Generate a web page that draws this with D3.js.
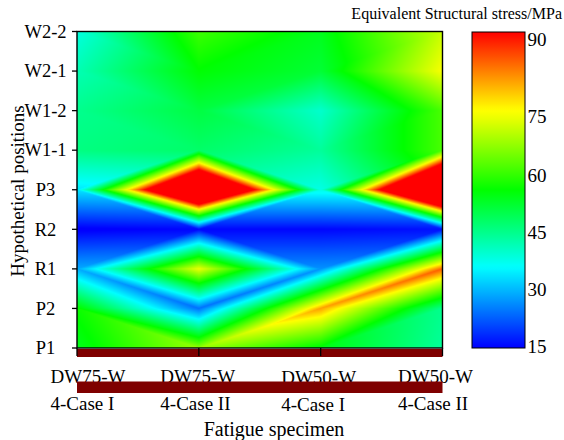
<!DOCTYPE html>
<html>
<head>
<meta charset="utf-8">
<script src="https://cdn.jsdelivr.net/npm/d3@7/dist/d3.min.js"></script>
<style>
  html, body { margin: 0; padding: 0; background: #fff; }
  svg { display: block; }
</style>
</head>
<body>
<div id="chart"></div>
<script>
// ---------------- data ----------------
const specimens = ["DW75-W4-Case I", "DW75-W4-Case II", "DW50-W4-Case I", "DW50-W4-Case II"];
const positions = ["P1", "P2", "R1", "R2", "P3", "W1-1", "W1-2", "W2-1", "W2-2"]; // bottom -> top
// equivalent structural stress (MPa) at each position, one array per specimen
const dw75CaseI  = [54, 57, 29, 14, 34, 46, 45, 42, 38.5];
const dw75CaseII = [68, 24, 75, 15, 137, 48, 51, 56, 61];
const dw50CaseI  = [55, 82, 27, 15, 38, 44, 40, 52, 54];
const dw50CaseII = [44, 45, 86, 16, 150, 62, 62, 76, 72];
const colorTicks = [15, 30, 45, 60, 75, 90];
const colorTitle = "Equivalent Structural stress/MPa";
const xTitle = "Fatigue specimen";
const yTitle = "Hypothetical positions";

const Z = [dw75CaseI, dw75CaseII, dw50CaseI, dw50CaseII];

(function () {
// ---------------- layout ----------------
const width = 564, height = 440;
const pLeft = 77, pRight = 442.5, pTop = 31.5, pBottom = 348;
const cbLeft = 472, cbRight = 525, cbTop = 32, cbBottom = 348;
const FONT = "'Liberation Serif', 'Times New Roman', Times, 'DejaVu Serif', serif";

const svg = d3.select("#chart").append("svg")
  .attr("width", width).attr("height", height)
  .attr("font-family", FONT);

const x = d3.scalePoint().domain(specimens).range([pLeft, pRight]).padding(0);
const y = d3.scalePoint().domain(positions).range([pBottom, pTop]).padding(0);
const xi = d3.scaleLinear().domain([0, specimens.length - 1]).range([pLeft, pRight]);
const yi = d3.scaleLinear().domain([0, positions.length - 1]).range([pBottom, pTop]);

// colour bar value->position (as labelled in the reference)
const cbScale = d3.scaleLinear().domain(colorTicks).range([346.5, 290, 233, 175.5, 117, 40]);
const color = d3.scaleLinear()
  .domain([cbScale.invert(cbBottom), cbScale.invert(267), cbScale.invert(190), cbScale.invert(110), cbScale.invert(cbTop)])
  .range(["#0000ff", "#00ffff", "#00ff00", "#ffff00", "#ff0000"])
  .clamp(true);

// LUT
const cd = color.domain();
const lutN = 2048, lo = cd[0], hi = cd[cd.length - 1];
const lut = new Uint8ClampedArray(lutN * 3);
for (let k = 0; k < lutN; k++) {
  const c = d3.rgb(color(lo + (hi - lo) * k / (lutN - 1)));
  lut[k * 3] = c.r; lut[k * 3 + 1] = c.g; lut[k * 3 + 2] = c.b;
}

// ---------------- heat field (triangulated linear interpolation) ----------------
const W = Math.round(pRight - pLeft), H = Math.round(pBottom - pTop);
const canvas = document.createElement("canvas");
canvas.width = W; canvas.height = H;
const ctx = canvas.getContext("2d");
const img = ctx.createImageData(W, H);
const nx = specimens.length - 1, ny = positions.length - 1;
for (let py = 0; py < H; py++) {
  let v = yi.invert(pTop + (py + 0.5) * (pBottom - pTop) / H);
  v = Math.max(0, Math.min(ny, v));
  const j = Math.min(Math.floor(v), ny - 1), t = v - j;
  for (let px = 0; px < W; px++) {
    let u = xi.invert(pLeft + (px + 0.5) * (pRight - pLeft) / W);
    u = Math.max(0, Math.min(nx, u));
    const i = Math.min(Math.floor(u), nx - 1), s = u - i;
    const z00 = Z[i][j], z10 = Z[i + 1][j], z01 = Z[i][j + 1], z11 = Z[i + 1][j + 1];
    let z;
    if (Math.abs(z00 - z11) <= Math.abs(z10 - z01)) {
      if (s >= t) z = z00 + s * (z10 - z00) + t * (z11 - z10);
      else z = z00 + t * (z01 - z00) + s * (z11 - z01);
    } else {
      if (s + t <= 1) z = z00 + s * (z10 - z00) + t * (z01 - z00);
      else z = z11 + (1 - s) * (z01 - z11) + (1 - t) * (z10 - z11);
    }
    let k = Math.round((z - lo) / (hi - lo) * (lutN - 1));
    k = Math.max(0, Math.min(lutN - 1, k));
    const o = (py * W + px) * 4;
    img.data[o] = lut[k * 3]; img.data[o + 1] = lut[k * 3 + 1]; img.data[o + 2] = lut[k * 3 + 2]; img.data[o + 3] = 255;
  }
}
ctx.putImageData(img, 0, 0);
svg.append("image")
  .attr("x", pLeft).attr("y", pTop)
  .attr("width", pRight - pLeft).attr("height", pBottom - pTop)
  .attr("preserveAspectRatio", "none")
  .attr("href", canvas.toDataURL());

// plot frame
svg.append("rect")
  .attr("x", pLeft).attr("y", pTop)
  .attr("width", pRight - pLeft).attr("height", pBottom - pTop)
  .attr("fill", "none").attr("stroke", "#000").attr("stroke-width", 1.4);

// y axis ticks + labels
const yAxis = svg.append("g");
yAxis.selectAll("line").data(positions).join("line")
  .attr("x1", pLeft - 5).attr("x2", pLeft)
  .attr("y1", d => y(d)).attr("y2", d => y(d))
  .attr("stroke", "#000").attr("stroke-width", 1.3);
yAxis.selectAll("text").data(positions).join("text")
  .attr("x", 45.5).attr("y", d => y(d)).attr("dy", "0.34em")
  .attr("text-anchor", "middle")
  .attr("font-family", FONT)
  .attr("font-size", 18.5)
  .text(d => d);

// x labels (two lines each)
const xOffsets = [-26.5, -38.5, -39.5, -44.5];
const xl = svg.append("g");
specimens.forEach((d, k) => {
  const m = d.match(/^(DW\d+-W)(.*)$/);
  const tx = x(d) + xOffsets[k];
  const g = xl.append("text").attr("x", tx)
    .attr("font-family", FONT).attr("font-size", 19);
  g.append("tspan").attr("x", tx).attr("y", k === 2 ? 384 : 382.5).text(m[1]);
  g.append("tspan").attr("x", tx).attr("y", k === 2 ? 411 : 409.5).text(m[2]);
});

// dark red strips
svg.append("rect")
  .attr("x", pLeft).attr("y", pBottom + 1)
  .attr("width", pRight - pLeft).attr("height", 8)
  .attr("fill", "#7f0000");
svg.append("g").selectAll("line").data(specimens).join("line")
  .attr("x1", d => x(d)).attr("x2", d => x(d))
  .attr("y1", pBottom).attr("y2", pBottom + 8)
  .attr("stroke", "#000").attr("stroke-width", 1.3);
svg.append("rect")
  .attr("x", pLeft).attr("y", 381.5)
  .attr("width", pRight - pLeft).attr("height", 11.5)
  .attr("fill", "#7f0000");

// axis titles
svg.append("text")
  .attr("x", 274).attr("y", 436)
  .attr("text-anchor", "middle")
  .attr("font-family", FONT).attr("font-size", 20)
  .text(xTitle);
svg.append("text")
  .attr("transform", "translate(24,191) rotate(-90)")
  .attr("text-anchor", "middle")
  .attr("font-family", FONT).attr("font-size", 19)
  .text(yTitle);

// colour bar
const defs = svg.append("defs");
const grad = defs.append("linearGradient").attr("id", "cbgrad")
  .attr("x1", 0).attr("y1", 0).attr("x2", 0).attr("y2", 1);
const nStops = 80;
grad.selectAll("stop").data(d3.range(nStops + 1)).join("stop")
  .attr("offset", k => k / nStops)
  .attr("stop-color", k => color(cbScale.invert(cbTop + (cbBottom - cbTop) * k / nStops)));
svg.append("rect")
  .attr("x", cbLeft).attr("y", cbTop)
  .attr("width", cbRight - cbLeft).attr("height", cbBottom - cbTop)
  .attr("fill", "url(#cbgrad)")
  .attr("stroke", "#000").attr("stroke-width", 1);
svg.append("g").selectAll("text").data(colorTicks).join("text")
  .attr("x", cbRight + 2.5).attr("y", d => cbScale(d)).attr("dy", "0.34em")
  .attr("font-family", FONT).attr("font-size", 19)
  .text(d => d);
svg.append("text")
  .attr("x", 562).attr("y", 18.5)
  .attr("text-anchor", "end")
  .attr("font-family", FONT).attr("font-size", 16)
  .text(colorTitle);
})();
</script>
</body>
</html>
